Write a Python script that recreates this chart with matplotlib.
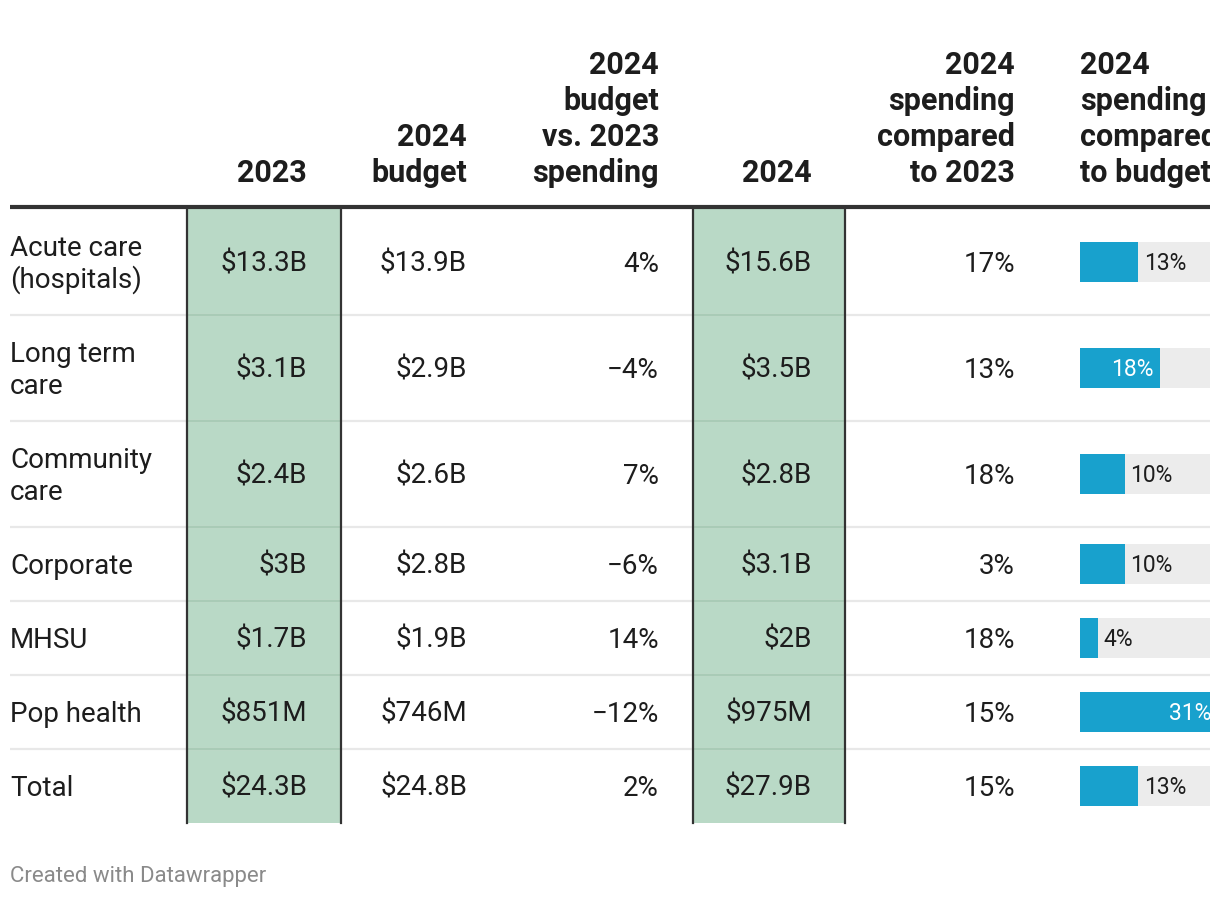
import matplotlib.pyplot as plt
from matplotlib.patches import Rectangle

plt.rcParams['font.family'] = ['Roboto', 'DejaVu Sans']

# table data
regions = ['Acute care\n(hospitals)', 'Long term\ncare', 'Community\ncare',
           'Corporate', 'MHSU', 'Pop health', 'Total']
spend_2023 = ['$13.3B', '$3.1B', '$2.4B', '$3B', '$1.7B', '$851M', '$24.3B']
budget_2024 = ['$13.9B', '$2.9B', '$2.6B', '$2.8B', '$1.9B', '$746M', '$24.8B']
budget_vs_2023 = ['4%', '\u22124%', '7%', '\u22126%', '14%', '\u221212%', '2%']
spend_2024 = ['$15.6B', '$3.5B', '$2.8B', '$3.1B', '$2B', '$975M', '$27.9B']
spend_vs_2023 = ['17%', '13%', '18%', '3%', '18%', '15%', '15%']
spend_vs_budget = [13, 18, 10, 10, 4, 31, 13]

headers = ['2023', '2024\nbudget', '2024\nbudget\nvs. 2023\nspending', '2024',
           '2024\nspending\ncompared\nto 2023', '2024\nspending\ncompared\nto budget']

text_cols = [spend_2023, budget_2024, budget_vs_2023, spend_2024, spend_vs_2023]
col_right = [307, 467, 659, 812, 1015]
bar_x0 = 1080
green_cols = [(187, 341), (693, 845)]

TXT = '#1d1d1d'
GREEN = '#b9d9c6'
BLUE = '#18a1cd'
BARBG = '#ececec'
SEP = '#e8e8e8'

fig = plt.figure(figsize=(12.2, 8.98), dpi=100)
ax = fig.add_axes([0, 0, 1210 / 1220, 1])
ax.set_xlim(0, 1210)
ax.set_ylim(898, 0)
ax.axis('off')

# row geometry
top = 209
tops = []
y = top
for r in regions:
    tops.append(y)
    y += 106 if '\n' in r else 74
bottom = y

# green columns
for x0, x1 in green_cols:
    ax.add_patch(Rectangle((x0, top), x1 - x0, bottom - top, facecolor=GREEN,
                           edgecolor='none', zorder=1))

# row separators
for t in tops[1:]:
    ax.plot([10, 1210], [t, t], color=SEP, lw=1.6, zorder=2, solid_capstyle='butt')
    for x0, x1 in green_cols:
        ax.plot([x0, x1], [t, t], color='#a9cbb6', lw=1.6, zorder=2.5,
                solid_capstyle='butt')

for x0, x1 in green_cols:
    for xx in (x0, x1):
        ax.plot([xx, xx], [top, bottom], color='#333333', lw=1.6, zorder=3)

# header line
ax.plot([10, 1210], [top - 2, top - 2], color='#333333', lw=3, zorder=4,
        solid_capstyle='butt')

# headers
for i, h in enumerate(headers):
    lines = h.split('\n')
    for k, line in enumerate(reversed(lines)):
        yb = 182 - 36 * k
        if i < 5:
            ax.text(col_right[i], yb, line, ha='right', va='baseline', fontsize=22,
                    fontweight='bold', color=TXT, clip_on=True)
        else:
            ax.text(bar_x0, yb, line, ha='left', va='baseline', fontsize=22,
                    fontweight='bold', color=TXT, clip_on=True)

# body
for r, name in enumerate(regions):
    t = tops[r]
    h = 106 if '\n' in name else 74
    c = t + h / 2
    lines = name.split('\n')
    n = len(lines)
    for k, line in enumerate(lines):
        yb = c + 10 + (k - (n - 1) / 2) * 32
        ax.text(10, yb, line, ha='left', va='baseline', fontsize=20, color=TXT)
    for j, col in enumerate(text_cols):
        ax.text(col_right[j], c + 10, col[r], ha='right', va='baseline',
                fontsize=20, color=TXT, zorder=5)
    # bar
    v = spend_vs_budget[r]
    w = v * 4.45
    ax.add_patch(Rectangle((bar_x0, c - 20), 1210 - bar_x0, 40, facecolor=BARBG,
                           edgecolor='none', zorder=2))
    ax.add_patch(Rectangle((bar_x0, c - 20), w, 40, facecolor=BLUE,
                           edgecolor='none', zorder=3))
    if w > 70:
        ax.text(bar_x0 + w - 7, c + 8, f'{v}%', ha='right', va='baseline',
                fontsize=16.5, color='white', zorder=5, clip_on=True)
    else:
        ax.text(bar_x0 + w + 6, c + 8, f'{v}%', ha='left', va='baseline',
                fontsize=16.5, color=TXT, zorder=5, clip_on=True)

ax.text(10, 882, 'Created with Datawrapper', ha='left', va='baseline',
        fontsize=16, color='#8a8a8a')

fig.savefig('out.png', dpi=100)
